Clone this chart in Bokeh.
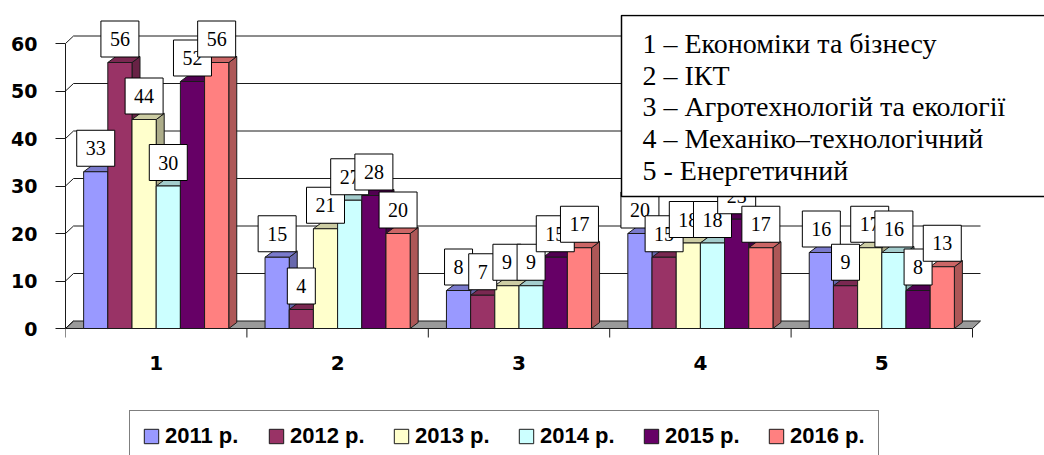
from bokeh.plotting import figure
from bokeh.models import Range1d, FixedTicker, Legend, LegendItem
from bokeh.core.properties import value
from bokeh.embed import file_html
from bokeh.resources import INLINE

# ---------------- data ----------------
categories = [1, 2, 3, 4, 5]
cat_labels = ["1", "2", "3", "4", "5"]
years = ["2011 р.", "2012 р.", "2013 р.", "2014 р.", "2015 р.", "2016 р."]
v2011 = [33, 15, 8, 20, 16]
v2012 = [56, 4, 7, 15, 9]
v2013 = [44, 21, 9, 18, 17]
v2014 = [30, 27, 9, 18, 16]
v2015 = [52, 28, 15, 23, 8]
v2016 = [56, 20, 17, 17, 13]
series = [v2011, v2012, v2013, v2014, v2015, v2016]
y_ticks = [0, 10, 20, 30, 40, 50, 60]
faculties = [
    "1 – Економіки та бізнесу",
    "2 – ІКТ",
    "3 – Агротехнологій та екології",
    "4 – Механіко–технологічний",
    "5 - Енергетичний",
]

# ---------------- style ----------------
colors = ["#9999FF", "#993366", "#FFFFCC", "#CCFFFF", "#660066", "#FF8080"]


def shade(hexc, f):
    r, g, b = int(hexc[1:3], 16), int(hexc[3:5], 16), int(hexc[5:7], 16)
    return "#%02x%02x%02x" % (int(r * f), int(g * f), int(b * f))


W, H = 1044, 455
ML, MT = 65, 14
Y0 = 328              # pixel row of value 0
PXX = 181.4   # px per category
PXY = 4.75    # px per unit
FW = W - ML
BW = 0.8 / 6
DX = 8 / PXX
DY = 6 / PXY
GDX = 8 / PXX
GDY = 7.5 / PXY
EDGE = "#1a1a1a"

p = figure(width=W, height=H, output_backend="svg", toolbar_location=None,
           x_range=Range1d(0.5, 0.5 + FW / PXX),
           y_range=Range1d(-(H - Y0) / PXY, (Y0 - MT) / PXY),
           x_axis_location=None,
           min_border_left=ML, min_border_right=0, min_border_top=MT,
           min_border_bottom=0, outline_line_color=None,
           background_fill_color="white", border_fill_color="white")
p.grid.grid_line_color = None

x_lo = categories[0] - 0.5
x_hi = categories[-1] + 0.5
bounds = [c - 0.5 for c in categories] + [x_hi]

# back wall gridlines and floor
p.patch([x_lo, x_hi, x_hi + GDX, x_lo + GDX], [0, 0, GDY, GDY],
        fill_color="#9a9a9a", line_color=EDGE, line_width=1)
gt = y_ticks[1:]
p.segment(x0=[x_lo] * len(y_ticks), y0=y_ticks,
          x1=[x_lo + GDX] * len(y_ticks), y1=[t + GDY for t in y_ticks],
          line_color=EDGE, line_width=1)
p.segment(x0=[x_lo + GDX] * len(gt), y0=[t + GDY for t in gt],
          x1=[x_hi + GDX] * len(gt), y1=[t + GDY for t in gt],
          line_color=EDGE, line_width=1)

# category axis (ticks between groups, labels at centres)
p.segment(x0=bounds, y0=[0] * len(bounds), x1=bounds, y1=[-9 / PXY] * len(bounds),
          line_color=EDGE, line_width=1)
p.text(x=categories, y=[-(362 - Y0) / PXY] * len(categories), text=cat_labels,
       text_font=value("DejaVu Sans"), text_font_style="bold", text_font_size="20px",
       text_color="black", text_align="center", text_baseline="middle")

fronts = []
for i, (vals, col) in enumerate(zip(series, colors)):
    off = -0.4 + BW / 2 + i * BW
    x0 = [c + off - BW / 2 for c in categories]
    x1 = [c + off + BW / 2 for c in categories]
    side_xs = [[b, b + DX, b + DX, b] for b in x1]
    side_ys = [[0, DY, v + DY, v] for v in vals]
    top_xs = [[a, b, b + DX, a + DX] for a, b in zip(x0, x1)]
    top_ys = [[v, v, v + DY, v + DY] for v in vals]
    p.patches(side_xs, side_ys, fill_color=shade(col, 0.68), line_color=EDGE, line_width=1)
    p.patches(top_xs, top_ys, fill_color=shade(col, 0.8), line_color=EDGE, line_width=1)
    fr = p.quad(left=x0, right=x1, bottom=0, top=vals, fill_color=col,
                line_color=EDGE, line_width=1)
    fronts.append(fr)

LAB_OFF = 23.5 / PXY
for i, vals in enumerate(series):
    off = -0.4 + BW / 2 + i * BW
    xc = [c + off for c in categories]
    p.text(x=xc, y=[v + LAB_OFF for v in vals], text=[str(v) for v in vals],
           text_font=value("Liberation Serif"), text_font_size="20px",
           text_color="black", text_align="center", text_baseline="middle",
           background_fill_color="white", border_line_color="black",
           border_line_width=1, padding=dict(left=9, right=9, top=11, bottom=11))

# faculty key box (top right)
bx0 = 0.5 + (621 - ML) / PXX
by1 = (Y0 - 15) / PXY
by0 = (Y0 - 196) / PXY
p.quad(left=[bx0], right=[bx0 + 3], bottom=[by0], top=[by1],
       fill_color="white", line_color="black", line_width=1.5)
tx = 0.5 + (642 - ML) / PXX
ty0 = (Y0 - 43) / PXY
step = 31.7 / PXY
p.text(x=[tx] * len(faculties), y=[ty0 - k * step for k in range(len(faculties))],
       text=faculties, text_font=value("Liberation Serif"), text_font_size="28px",
       text_color="black", text_align="left", text_baseline="middle")

# value axis
p.yaxis.ticker = FixedTicker(ticks=y_ticks)
p.yaxis.bounds = (y_ticks[0], y_ticks[-1])
p.yaxis.major_tick_out = 10
p.yaxis.major_tick_in = 0
p.yaxis.minor_tick_line_color = None
p.yaxis.major_label_standoff = 18
p.yaxis.major_label_text_font = "DejaVu Sans"
p.yaxis.major_label_text_font_style = "bold"
p.yaxis.major_label_text_font_size = "19px"
p.yaxis.major_label_text_color = "black"
p.yaxis.axis_line_color = EDGE
p.yaxis.major_tick_line_color = EDGE

legend = Legend(items=[LegendItem(label=y, renderers=[r]) for y, r in zip(years, fronts)],
                orientation="horizontal", location=(64, -7), padding=12, spacing=26,
                glyph_width=18, glyph_height=18, label_standoff=5, margin=0,
                label_width=76, label_height=25,
                label_text_font="Liberation Sans", label_text_font_style="bold",
                label_text_font_size="22px", label_text_color="black",
                border_line_color="black", border_line_width=1.5,
                background_fill_color="white", background_fill_alpha=1.0)
p.add_layout(legend)

open("out.html", "w").write(file_html(p, INLINE))
